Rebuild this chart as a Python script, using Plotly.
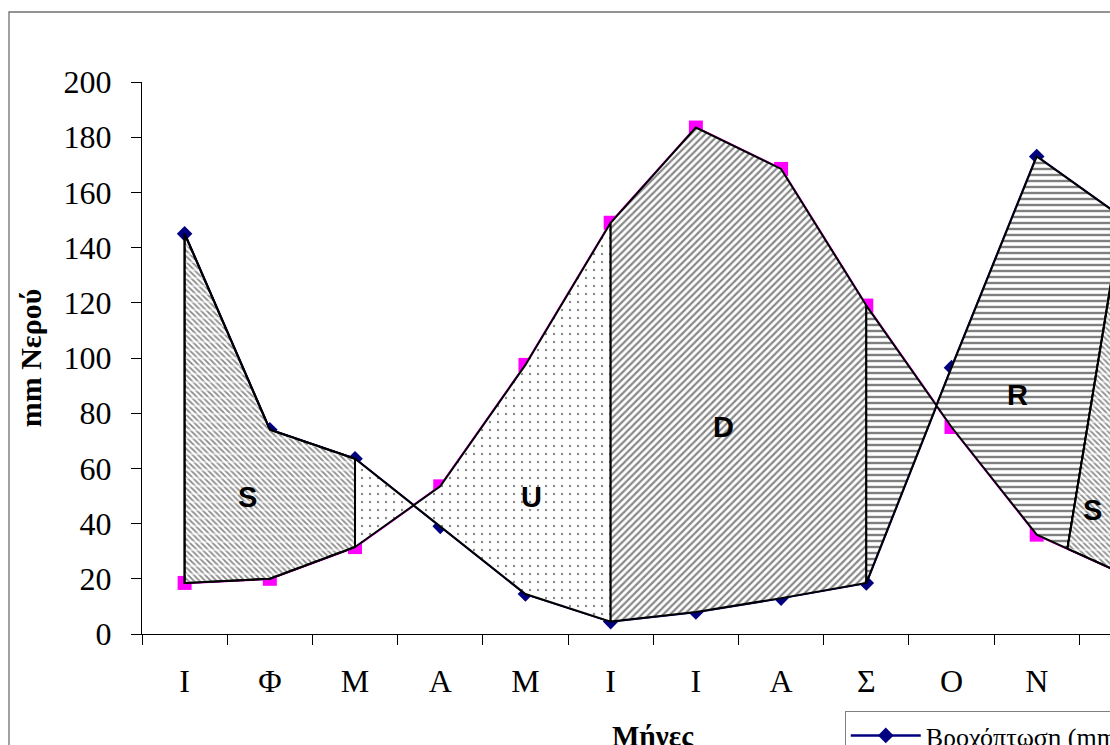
import numpy as np
import plotly.graph_objects as go

# Monthly water balance (mm)
months = ["Ι", "Φ", "Μ", "Α", "Μ", "Ι", "Ι", "Α", "Σ", "Ο", "Ν", "Δ"]
rainfall = [145, 74, 63.5, 39, 14.5, 4.5, 8, 13, 18.5, 96.5, 173, 151]
pet = [18.5, 20, 31.5, 53.5, 97.5, 149, 183.5, 168.5, 119, 75, 36, 22]
surplus_start = 10.36  # month position where the soil is fully recharged

series_names = ["Βροχόπτωση (mm)", "Δυνητική Εξατμισοδιαπνοή (mm)"]
zone_labels = ["S", "U", "D", "R", "S"]

x = np.arange(len(months))
P = np.array(rainfall, dtype=float)
E = np.array(pet, dtype=float)
E_s = float(np.interp(surplus_start, x, E))

SERIF = "Liberation Serif"
SANS = "Liberation Sans"

fig = go.Figure()

# data series
fig.add_trace(go.Scatter(
    x=x, y=P, name=series_names[0], mode="lines+markers",
    line=dict(color="#000080", width=2.5),
    marker=dict(symbol="diamond", size=12, color="#000080"),
))
fig.add_trace(go.Scatter(
    x=x, y=E, name=series_names[1], mode="lines+markers",
    line=dict(color="#FF00FF", width=2.5),
    marker=dict(symbol="square", size=14, color="#FF00FF"),
))


def zone(xs, ys, pattern, breaks=None):
    xs = list(xs) + [xs[0]]
    ys = list(ys) + [ys[0]]
    fig.add_trace(go.Scatter(
        x=xs, y=ys, mode="lines", fill="toself", showlegend=False,
        hoverinfo="skip", line=dict(color="black", width=2),
        fillcolor="white", fillpattern=pattern,
    ))
    if breaks is not None:
        # white bands cut the hatch into short dashes
        fig.add_trace(go.Scatter(
            x=xs, y=ys, mode="lines", fill="toself", showlegend=False,
            hoverinfo="skip", line=dict(color="black", width=2),
            fillcolor="rgba(0,0,0,0)", fillpattern=breaks,
        ))


dash_pat = dict(shape="\\", size=4, solidity=0.45, fgcolor="#111111", bgcolor="white")
dash_break = dict(shape="-", size=8, solidity=0.3, fgcolor="white",
                  bgcolor="rgba(0,0,0,0)")
dot_pat = dict(shape=".", size=8, solidity=0.07, fgcolor="#111111", bgcolor="white")
diag_pat = dict(shape="/", size=5, solidity=0.45, fgcolor="#111111", bgcolor="white")
hor_pat = dict(shape="-", size=6, solidity=0.4, fgcolor="#000000", bgcolor="white")

# surplus Jan-Mar
zone([0, 1, 2, 2, 1, 0], [P[0], P[1], P[2], E[2], E[1], E[0]], dash_pat, dash_break)
# soil water utilisation Mar-Jun
zone([2, 3, 4, 5, 5, 4, 3, 2], [P[2], P[3], P[4], P[5], E[5], E[4], E[3], E[2]], dot_pat)
# deficit Jun-Sep
zone([5, 6, 7, 8, 8, 7, 6, 5], [P[5], P[6], P[7], P[8], E[8], E[7], E[6], E[5]], diag_pat)
# recharge Sep-Dec
zone([8, 9, 10, 11, surplus_start, 10, 9, 8],
     [P[8], P[9], P[10], P[11], E_s, E[10], E[9], E[8]], hor_pat)
# surplus Dec
zone([surplus_start, 11, 11], [E_s, E[11], P[11]], dash_pat, dash_break)

# boundary ticks between months
fig.add_trace(go.Scatter(x=[0], y=[0], xaxis="x2", mode="none",
                         showlegend=False, hoverinfo="skip"))

label_pos = [(0.74, 49.6), (4.07, 49.6), (6.33, 75), (9.77, 86.6), (10.66, 45)]
annotations = [
    dict(x=lx, y=ly, text=f"<b>{t}</b>", showarrow=False,
         font=dict(family=SANS, size=29, color="black"), xref="x", yref="y")
    for t, (lx, ly) in zip(zone_labels, label_pos)
]
annotations.append(dict(
    x=5.5, xref="x", y=-0.152, yref="paper", yanchor="top", text="<b>Μήνες</b>",
    showarrow=False, font=dict(family=SERIF, size=29, color="black")))

xrange = [-0.5, 10.86]

fig.update_layout(
    width=1110, height=745,
    margin=dict(l=142, r=0, t=82, b=111, autoexpand=False),
    paper_bgcolor="white", plot_bgcolor="white",
    showlegend=True,
    legend=dict(x=0.726, y=-0.1395, xanchor="left", yanchor="top",
                bordercolor="#808080", borderwidth=1, bgcolor="white",
                itemwidth=70,
                font=dict(family=SERIF, size=26, color="black")),
    xaxis=dict(range=xrange, tickvals=list(x), ticktext=months,
               ticks="", showline=True, linecolor="black", linewidth=1.3,
               showgrid=False, zeroline=False,
               tickfont=dict(family=SERIF, size=32, color="black"),
               ticklabelstandoff=18),
    xaxis2=dict(range=xrange, overlaying="x", anchor="y", side="bottom",
                tickvals=list(np.arange(-0.5, 12, 1.0)), ticks="outside",
                ticklen=10, tickcolor="black", tickwidth=1,
                showticklabels=False, showgrid=False, zeroline=False,
                showline=False),
    yaxis=dict(range=[0, 200], dtick=20, ticks="outside", ticklen=10,
               tickcolor="black", showline=True, linecolor="black",
               linewidth=1.3, showgrid=False, zeroline=False,
               tickfont=dict(family=SERIF, size=32, color="black"),
               ticklabelstandoff=13,
               title=dict(text="<b>mm Νερού</b>", standoff=12,
                          font=dict(family=SERIF, size=30, color="black"))),
    annotations=annotations,
    shapes=[dict(type="rect", xref="paper", yref="paper",
                 x0=-0.1374, x1=1.3, y0=1.1268, y1=-0.4,
                 line=dict(color="#707070", width=1.3), layer="below")],
)

fig.write_html("out.html")
